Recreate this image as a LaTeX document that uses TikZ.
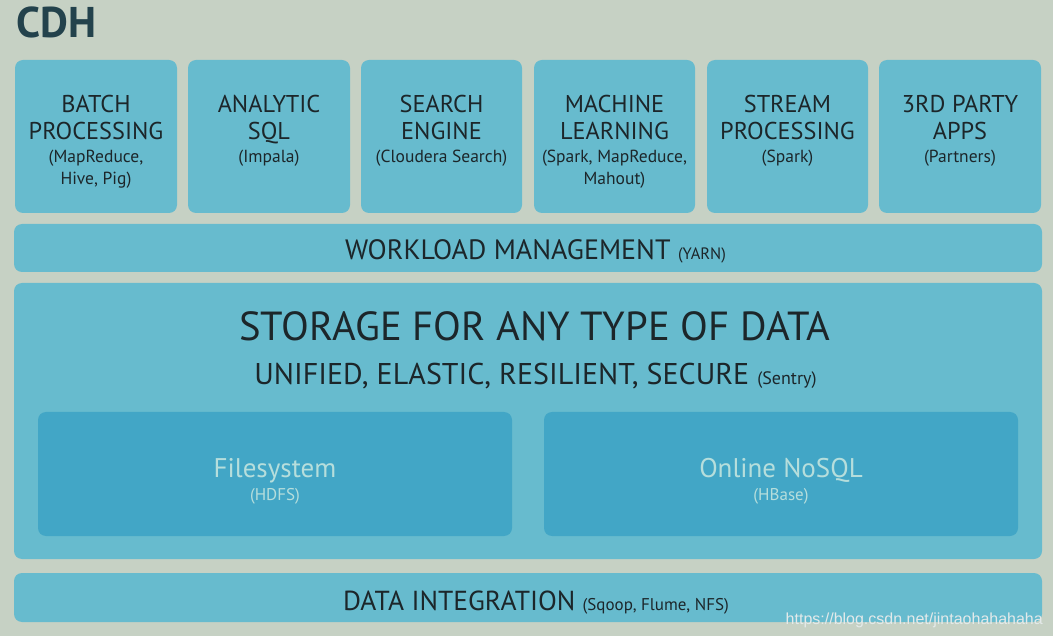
\documentclass[tikz,border=0pt]{standalone}
\usepackage{fontspec}
\setmainfont{PT Sans}
\newfontfamily\wmfont{Liberation Sans}
\definecolor{bgc}{RGB}{198,209,196}
\definecolor{boxc}{RGB}{103,187,206}
\definecolor{innerc}{RGB}{66,166,198}
\definecolor{txtc}{RGB}{28,38,42}
\definecolor{cdhc}{RGB}{35,66,76}
\definecolor{innertxt}{RGB}{182,222,220}
\definecolor{wmc}{RGB}{228,234,234}
\begin{document}
\begin{tikzpicture}[x=1pt,y=-1pt,
  panel/.style={fill=boxc, draw=none, rounded corners=8pt, inner sep=0pt},
  innerpanel/.style={fill=innerc, draw=none, rounded corners=8pt, inner sep=0pt},
  big/.style={anchor=base, text=txtc, inner sep=0pt, font=\fontsize{24.3}{27}\selectfont},
  small/.style={anchor=base, text=txtc, inner sep=0pt, font=\fontsize{17.5}{20}\selectfont},
  band/.style={anchor=base, text=txtc, inner sep=0pt},
  light/.style={anchor=base, text=innertxt, inner sep=0pt}
]
\useasboundingbox (0,0) rectangle (1053,636);
\fill[bgc] (0,0) rectangle (1053,636);

\node[anchor=base west, text=cdhc, inner sep=0pt, font=\fontsize{43}{46}\selectfont\bfseries] (cdh) at (16,38) {CDH};

% top boxes
\node[panel, minimum width=162pt, minimum height=153pt] (b1) at (96,136.5) {};
\node[panel, minimum width=162pt, minimum height=153pt] (b2) at (269,136.5) {};
\node[panel, minimum width=161pt, minimum height=153pt] (b3) at (441.5,136.5) {};
\node[panel, minimum width=161pt, minimum height=153pt] (b4) at (614.5,136.5) {};
\node[panel, minimum width=161pt, minimum height=153pt] (b5) at (787.5,136.5) {};
\node[panel, minimum width=162pt, minimum height=153pt] (b6) at (960,136.5) {};

\node[big] (b1a) at (96,113) {BATCH};
\node[big] (b1b) at (96,140) {PROCESSING};
\node[small] (b1c) at (96,163) {(MapReduce,};
\node[small] (b1d) at (96,185) {Hive, Pig)};

\node[big] (b2a) at (269,113) {ANALYTIC};
\node[big] (b2b) at (269,140) {SQL};
\node[small] (b2c) at (269,163) {(Impala)};

\node[big] (b3a) at (441.5,113) {SEARCH};
\node[big] (b3b) at (441.5,140) {ENGINE};
\node[small] (b3c) at (441.5,163) {(Cloudera Search)};

\node[big] (b4a) at (614.5,113) {MACHINE};
\node[big] (b4b) at (614.5,140) {LEARNING};
\node[small] (b4c) at (614.5,163) {(Spark, MapReduce,};
\node[small] (b4d) at (614.5,185) {Mahout)};

\node[big] (b5a) at (787.5,113) {STREAM};
\node[big] (b5b) at (787.5,140) {PROCESSING};
\node[small] (b5c) at (787.5,163) {(Spark)};

\node[big] (b6a) at (960,113) {3RD PARTY};
\node[big] (b6b) at (960,140) {APPS};
\node[small] (b6c) at (960,163) {(Partners)};

% workload
\node[panel, minimum width=1028pt, minimum height=48pt] (wl) at (528,248) {};
\node[band] (wlt) at (535.5,260) {\fontsize{28}{30}\selectfont WORKLOAD MANAGEMENT \fontsize{16.5}{18}\selectfont(YARN)};

% storage
\node[panel, minimum width=1028pt, minimum height=276pt] (st) at (528,421) {};
\node[band] (stt) at (535,341) {\fontsize{40.6}{44}\selectfont STORAGE FOR ANY TYPE OF DATA};
\node[band] (sts) at (535.5,385) {\fontsize{30}{33}\selectfont UNIFIED, ELASTIC, RESILIENT, SECURE \fontsize{18}{20}\selectfont(Sentry)};

\node[innerpanel, minimum width=474pt, minimum height=124pt] (fs) at (275,474) {};
\node[innerpanel, minimum width=474pt, minimum height=124pt] (ns) at (781,474) {};
\node[light, font=\fontsize{27}{30}\selectfont] (fst) at (275,478) {Filesystem};
\node[light, font=\fontsize{17}{19}\selectfont] (fss) at (275,500) {(HDFS)};
\node[light, font=\fontsize{27}{30}\selectfont] (nst) at (781,478) {Online NoSQL};
\node[light, font=\fontsize{17}{19}\selectfont] (nss) at (781,500) {(HBase)};

% data integration
\node[panel, minimum width=1028pt, minimum height=49pt] (di) at (528,597.5) {};
\node[band] (dit) at (536,610) {\fontsize{27.5}{30}\selectfont DATA INTEGRATION \fontsize{17}{18}\selectfont(Sqoop, Flume, NFS)};

\node[anchor=base east, text=wmc, inner sep=0pt, font=\wmfont\fontsize{16}{18}\selectfont] (wm) at (1043,624) {https://blog.csdn.net/jintaohahahaha};
\end{tikzpicture}
\end{document}
